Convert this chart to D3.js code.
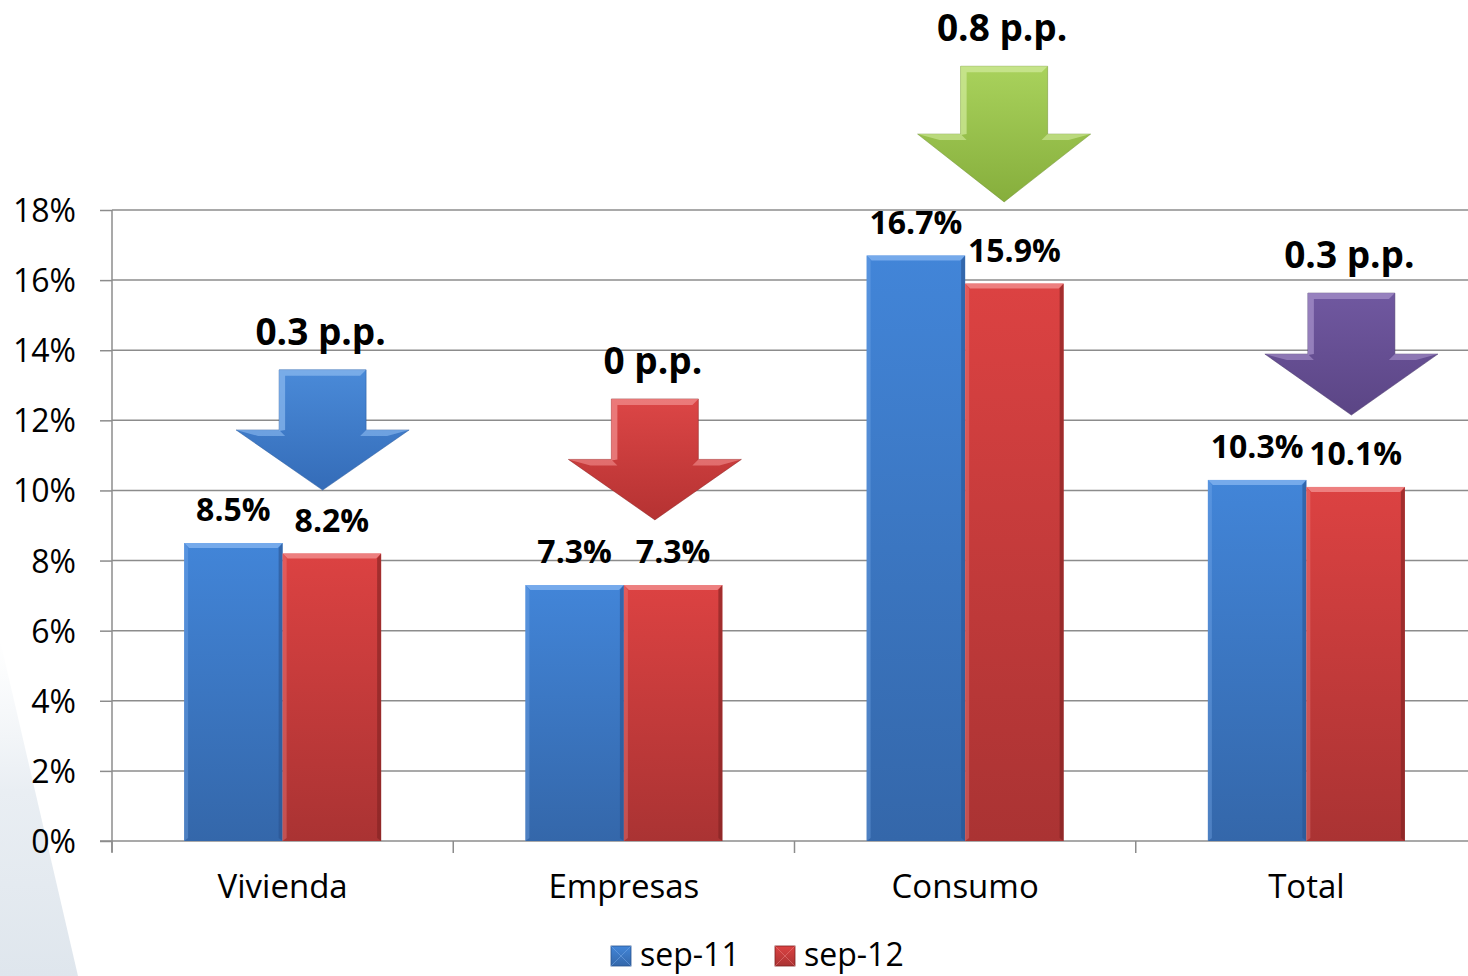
<!DOCTYPE html>
<html><head><meta charset="utf-8">
<script src="https://cdn.jsdelivr.net/npm/d3@7"></script>
<style>html,body{margin:0;padding:0;background:#fff;overflow:hidden}</style>
</head><body>
<svg id="c" width="1468" height="976"></svg>
<script>
const categories = ["Vivienda", "Empresas", "Consumo", "Total"];
const seriesNames = ["sep-11", "sep-12"];
const sep11 = [8.5, 7.3, 16.7, 10.3];
const sep12 = [8.2, 7.3, 15.9, 10.1];
const yTicks = [0, 2, 4, 6, 8, 10, 12, 14, 16, 18];
const arrowLabels = ["0.3 p.p.", "0 p.p.", "0.8 p.p.", "0.3 p.p."];
const arrowTop = [13.44, 12.61, 22.1, 15.63];
const arrowTip = [10.01, 9.16, 18.23, 12.15];

const FONT = "'Open Sans', 'Noto Sans', sans-serif";
const svg = d3.select("#c");
const defs = svg.append("defs");

// background decoration
const bgG = defs.append("linearGradient").attr("id","bg").attr("x1",0).attr("y1",0).attr("x2",0).attr("y2",1);
bgG.append("stop").attr("offset","0%").attr("stop-color","#eef2f6").attr("stop-opacity",0);
bgG.append("stop").attr("offset","45%").attr("stop-color","#e9eef3");
bgG.append("stop").attr("offset","100%").attr("stop-color","#dfe6ed");
svg.append("path").attr("d","M0,640 L78,976 L0,976 Z").attr("fill","url(#bg)");

const x0 = d3.scaleBand().domain(categories).range([112, 1477]).padding(0);
const bw = x0.bandwidth();
const groupW = 197;
const x1 = d3.scaleBand().domain(seriesNames).range([(bw-groupW)/2, (bw+groupW)/2]).padding(0);
const y = d3.scaleLinear().domain([0, 18]).range([841, 210]);

const gridColor = "#8c8c8c";
svg.append("g").selectAll("line").data(yTicks.filter(d=>d>0)).join("line")
  .attr("x1",112).attr("x2",1468).attr("y1",d=>y(d)).attr("y2",d=>y(d))
  .attr("stroke",gridColor).attr("stroke-width",1.5);

const yAxis = d3.axisLeft(y).tickValues(yTicks).tickFormat(d=>d+"%").tickSize(12).tickPadding(24);
const gy = svg.append("g").attr("transform","translate(112,0)").call(yAxis);
gy.select(".domain").attr("stroke",gridColor).attr("stroke-width",1.5).attr("d","M0,210V852");
gy.selectAll(".tick line").attr("stroke",gridColor).attr("stroke-width",1.5);
gy.selectAll(".tick text").attr("font-family",FONT).attr("font-size",32).attr("fill","#000").attr("dy","0.36em");

const xAxis = d3.axisBottom(x0).tickSize(0).tickPadding(34);
const gx = svg.append("g").attr("transform","translate(0,841)").call(xAxis);
gx.select(".domain").attr("stroke",gridColor).attr("stroke-width",1.5).attr("d","M100,0H1468");
gx.selectAll(".tick text").attr("font-family",FONT).attr("font-size",33).attr("fill","#000");
const bounds = categories.map(c=>x0(c));
svg.append("g").selectAll("line").data(bounds).join("line")
  .attr("x1",d=>d).attr("x2",d=>d).attr("y1",841).attr("y2",853)
  .attr("stroke",gridColor).attr("stroke-width",1.5);

const palettes = {
  "sep-11": {top:"#4285d8", bot:"#3467aa", hi:"#7fb0ee", dk:"#2a5490"},
  "sep-12": {top:"#dc4242", bot:"#aa3333", hi:"#f08a8a", dk:"#7e2222"}
};
Object.entries(palettes).forEach(([k,p],i)=>{
  const g = defs.append("linearGradient").attr("id","bar"+i).attr("x1",0).attr("y1",0).attr("x2",0).attr("y2",1);
  g.append("stop").attr("offset","0%").attr("stop-color",p.top);
  g.append("stop").attr("offset","100%").attr("stop-color",p.bot);
});

const data = categories.map((c,i)=>({cat:c, vals:[{s:"sep-11",v:sep11[i],k:0},{s:"sep-12",v:sep12[i],k:1}]}));

const groups = svg.append("g").selectAll("g").data(data).join("g")
  .attr("transform",d=>`translate(${x0(d.cat)},0)`);

const bars = groups.selectAll("g.bar").data(d=>d.vals).join("g").attr("class","bar");
bars.append("rect")
  .attr("x",d=>x1(d.s)).attr("y",d=>y(d.v))
  .attr("width",x1.bandwidth()).attr("height",d=>y(0)-y(d.v))
  .attr("fill",d=>`url(#bar${d.k})`);
bars.append("path")
  .attr("d",d=>{const xa=x1(d.s), xb=xa+x1.bandwidth(), t=y(d.v); return `M${xa},${t}H${xb}L${xb-5},${t+5}H${xa+5}Z`;})
  .attr("fill",d=>palettes[d.s].hi).attr("opacity",0.85);
bars.append("path")
  .attr("d",d=>{const xa=x1(d.s), xb=xa+x1.bandwidth(), t=y(d.v), b=y(0); return `M${xb},${t}V${b}L${xb-4},${b-3}V${t+5}Z`;})
  .attr("fill",d=>palettes[d.s].dk).attr("opacity",0.6);
bars.append("path")
  .attr("d",d=>{const xa=x1(d.s), t=y(d.v), b=y(0); return `M${xa},${t}V${b}L${xa+4},${b-3}V${t+5}Z`;})
  .attr("fill",d=>palettes[d.s].hi).attr("opacity",0.35);
bars.append("text")
  .attr("x",d=>x1(d.s)+x1.bandwidth()/2).attr("y",d=>y(d.v)-22)
  .attr("text-anchor","middle").attr("font-family",FONT).attr("font-weight",700)
  .attr("font-size",32).attr("fill","#000")
  .text(d=>d.v.toFixed(1)+"%");

const arrowColors = [
  {top:"#4a8ad8", bot:"#346cb8", hi:"#8dbbf0", dk:"#2a5a9c"},
  {top:"#dc4646", bot:"#b53232", hi:"#f29090", dk:"#8e2424"},
  {top:"#a9d25c", bot:"#86ae3c", hi:"#d2eb9c", dk:"#6b8e2a"},
  {top:"#7058a0", bot:"#5b4585", hi:"#a893cc", dk:"#463468"}
];
const arrowDx = [40, 31, 39, 45];
arrowColors.forEach((c,i)=>{
  const g = defs.append("linearGradient").attr("id","arr"+i).attr("x1",0).attr("y1",0).attr("x2",0).attr("y2",1);
  g.append("stop").attr("offset","0%").attr("stop-color",c.top);
  g.append("stop").attr("offset","100%").attr("stop-color",c.bot);
});
const shaftHW = 43.5, headHW = 86.5;
const ann = svg.append("g").selectAll("g").data(categories.map((c,i)=>({c,i}))).join("g");
function geo(d){
  const cx = x0(d.c)+bw/2+arrowDx[d.i];
  const t = y(arrowTop[d.i]), tip = y(arrowTip[d.i]);
  return {cx, t, tip, hy: t + (tip-t)*0.5};
}
ann.append("path")
  .attr("d",d=>{const {cx,t,tip,hy}=geo(d);
    return `M${cx-shaftHW},${t}H${cx+shaftHW}V${hy}H${cx+headHW}L${cx},${tip}L${cx-headHW},${hy}H${cx-shaftHW}Z`;})
  .attr("fill",d=>`url(#arr${d.i})`)
  .attr("stroke",d=>arrowColors[d.i].dk).attr("stroke-width",1).attr("stroke-opacity",0.5);
ann.append("path")
  .attr("d",d=>{const {cx,t,hy}=geo(d);
    return `M${cx-shaftHW},${t}H${cx+shaftHW}L${cx+shaftHW-6},${t+6}H${cx-shaftHW+6}V${hy}L${cx-shaftHW},${hy+1}Z`;})
  .attr("fill",d=>arrowColors[d.i].hi).attr("opacity",0.7);
ann.append("path")
  .attr("d",d=>{const {cx,hy}=geo(d);
    return `M${cx-headHW},${hy}H${cx-shaftHW}L${cx-shaftHW+6},${hy+6}H${cx-headHW+22}Z M${cx+shaftHW},${hy}H${cx+headHW}L${cx+headHW-22},${hy+6}H${cx+shaftHW-6}Z`;})
  .attr("fill",d=>arrowColors[d.i].hi).attr("opacity",0.6);
ann.append("text")
  .attr("x",d=>geo(d).cx-2)
  .attr("y",d=>geo(d).t-25)
  .attr("text-anchor","middle").attr("font-family",FONT).attr("font-weight",700)
  .attr("font-size",37).attr("fill","#000")
  .text(d=>arrowLabels[d.i]);

// legend
const legX = [611, 775];
const leg = svg.append("g").selectAll("g").data(seriesNames).join("g")
  .attr("transform",(d,i)=>`translate(${legX[i]},946)`);
leg.append("rect").attr("width",20).attr("height",20).attr("fill",(d,i)=>`url(#bar${i})`)
  .attr("stroke",(d,i)=>Object.values(palettes)[i].dk).attr("stroke-width",0.8);
leg.append("path").attr("d","M0,0L20,20M20,0L0,20").attr("stroke",(d,i)=>Object.values(palettes)[i].hi).attr("stroke-width",0.8).attr("opacity",0.6);
leg.append("text").attr("x",29).attr("y",20).attr("font-family",FONT).attr("font-size",32).attr("fill","#000").text(d=>d);
</script>
</body></html>
